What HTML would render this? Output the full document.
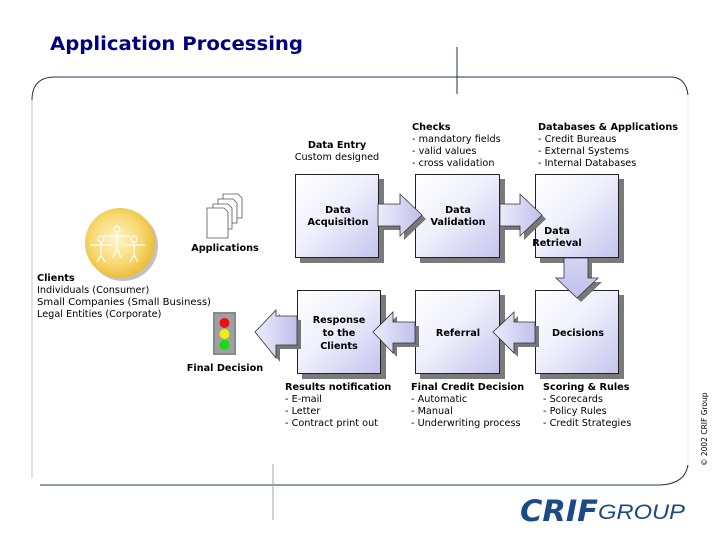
<!DOCTYPE html>
<html><head><meta charset="utf-8"><style>
html,body{margin:0;padding:0;background:#fff;}
svg{display:block;}
text{font-family:"DejaVu Sans","Liberation Sans",sans-serif;font-size:9.7px;fill:#000;}
.b{font-weight:bold;}
</style></head><body>
<svg width="720" height="540" viewBox="0 0 720 540" xmlns="http://www.w3.org/2000/svg">
<defs>
<linearGradient id="g" x1="0" y1="0" x2="1" y2="1">
<stop offset="0" stop-color="#ffffff"/><stop offset="0.45" stop-color="#f0f0fc"/><stop offset="1" stop-color="#c4c4ee"/>
</linearGradient>
<linearGradient id="ga" x1="0" y1="0" x2="1" y2="0">
<stop offset="0" stop-color="#ececfb"/><stop offset="1" stop-color="#c0c0ec"/>
</linearGradient>
<linearGradient id="gd" x1="0" y1="0" x2="0" y2="1">
<stop offset="0" stop-color="#d4d4f4"/><stop offset="1" stop-color="#c0c0ec"/>
</linearGradient>
<radialGradient id="gy" cx="0.45" cy="0.45" r="0.6">
<stop offset="0" stop-color="#fff4cc"/><stop offset="0.6" stop-color="#f8d870"/><stop offset="1" stop-color="#e8b830"/>
</radialGradient>
</defs>

<text x="50" y="50" textLength="253" lengthAdjust="spacingAndGlyphs" style="font-family:'DejaVu Sans',sans-serif;font-size:18.5px;font-weight:bold;fill:#000080">Application Processing</text>

<!-- frame -->
<path d="M32,478 L32,100 Q32,77 55,77 L672,77 Q686,78 688,95" fill="none" stroke="#1e3450" stroke-width="1"/>
<line x1="32" y1="100" x2="32" y2="478" stroke="#b8c8d0" stroke-width="1"/>
<path d="M40,485 L660,485 Q685,484 688,465" fill="none" stroke="#1e3450" stroke-width="1"/>
<line x1="688" y1="95" x2="688" y2="465" stroke="#e4e8ec" stroke-width="1"/>
<line x1="457" y1="47" x2="457" y2="94" stroke="#1e3450" stroke-width="1"/>
<line x1="273" y1="464" x2="273" y2="520" stroke="#9aa8b4" stroke-width="1"/>

<g fill="#7a7a7a">
<rect x="300" y="179" width="84" height="84"/>
<rect x="420" y="179" width="85" height="84"/>
<rect x="540" y="179" width="84" height="84"/>
<rect x="302" y="295" width="84" height="84"/>
<rect x="420" y="295" width="85" height="84"/>
<rect x="540" y="295" width="84" height="84"/>
</g>
<g fill="url(#g)" stroke="#222" stroke-width="1">
<rect x="295.5" y="174.5" width="83" height="83"/>
<rect x="415.5" y="174.5" width="84" height="83"/>
<rect x="535.5" y="174.5" width="83" height="83"/>
<rect x="297.5" y="290.5" width="83" height="83"/>
<rect x="415.5" y="290.5" width="84" height="83"/>
<rect x="535.5" y="290.5" width="83" height="83"/>
</g>

<g>
<polygon points="382,208 404,208 404,198 426,219 404,240 404,230 382,230" fill="#777"/>
<polygon points="378,204 400,204 400,194 422,215 400,236 400,226 378,226" fill="url(#ga)" stroke="#333" stroke-width="0.8"/>
<polygon points="504,208 524,208 524,198 546,219 524,240 524,230 504,230" fill="#777"/>
<polygon points="500,204 520,204 520,194 542,215 520,236 520,226 500,226" fill="url(#ga)" stroke="#333" stroke-width="0.8"/>
<polygon points="568,262 592,262 592,282 602,282 581,302 560,282 568,282" fill="#777"/>
<polygon points="564,258 588,258 588,278 598,278 577,298 556,278 564,278" fill="url(#gd)" stroke="#333" stroke-width="0.8"/>
<polygon points="539,326 518,326 518,316 497,336 518,357 518,347 539,347" fill="#777"/>
<polygon points="535,322 514,322 514,312 493,332 514,353 514,343 535,343" fill="url(#ga)" stroke="#333" stroke-width="0.8"/>
<polygon points="419,326 397,326 397,316 377,336 397,357 397,347 419,347" fill="#777"/>
<polygon points="415,322 393,322 393,312 373,332 393,353 393,343 415,343" fill="url(#ga)" stroke="#333" stroke-width="0.8"/>
<polygon points="301,320 280,320 280,314 259,336 280,362 280,349 301,349" fill="#777"/>
<polygon points="297,316 276,316 276,310 255,332 276,358 276,345 297,345" fill="url(#ga)" stroke="#333" stroke-width="0.8"/>
</g>

<g text-anchor="middle">
<text class="b" x="338" y="213">Data</text><text class="b" x="338" y="225">Acquisition</text>
<text class="b" x="458" y="213">Data</text><text class="b" x="458" y="225">Validation</text>
<text class="b" x="557" y="234">Data</text><text class="b" x="557" y="246">Retrieval</text>
<text class="b" x="339" y="323">Response</text><text class="b" x="339" y="336">to the</text><text class="b" x="339" y="349">Clients</text>
<text class="b" x="458" y="336">Referral</text>
<text class="b" x="578" y="336">Decisions</text>
</g>

<g text-anchor="middle"><text class="b" x="337" y="148">Data Entry</text><text x="337" y="160">Custom designed</text></g>
<text class="b" x="412" y="130">Checks</text>
<text x="412" y="142">- mandatory fields</text>
<text x="412" y="154">- valid values</text>
<text x="412" y="166">- cross validation</text>
<text class="b" x="538" y="130" textLength="140" lengthAdjust="spacingAndGlyphs">Databases &amp; Applications</text>
<text x="538" y="142">- Credit Bureaus</text>
<text x="538" y="154">- External Systems</text>
<text x="538" y="166">- Internal Databases</text>

<text class="b" x="285" y="390">Results notification</text>
<text x="285" y="402">- E-mail</text>
<text x="285" y="414">- Letter</text>
<text x="285" y="426">- Contract print out</text>
<text class="b" x="411" y="390">Final Credit Decision</text>
<text x="411" y="402">- Automatic</text>
<text x="411" y="414">- Manual</text>
<text x="411" y="426">- Underwriting process</text>
<text class="b" x="543" y="390">Scoring &amp; Rules</text>
<text x="543" y="402">- Scorecards</text>
<text x="543" y="414">- Policy Rules</text>
<text x="543" y="426">- Credit Strategies</text>

<circle cx="123" cy="246" r="35" fill="#999" opacity="0.6"/>
<circle cx="120" cy="243" r="35" fill="url(#gy)"/>
<g stroke="#fff" stroke-width="1.2" fill="none">
<circle cx="117" cy="229" r="3"/><path d="M104,236 L130,236 M117,232 L117,248 M113,258 L117,248 L121,258"/>
<circle cx="101" cy="239" r="3"/><path d="M90,245 L112,245 M101,242 L101,255 M97,262 L101,255 L105,262"/>
<circle cx="134" cy="239" r="3"/><path d="M123,245 L145,245 M134,242 L134,255 M130,262 L134,255 L138,262"/>
</g>
<text class="b" x="37" y="281">Clients</text>
<text x="37" y="293">Individuals (Consumer)</text>
<text x="37" y="305" textLength="174" lengthAdjust="spacingAndGlyphs">Small Companies (Small Business)</text>
<text x="37" y="317">Legal Entities (Corporate)</text>

<g fill="#fff" stroke="#555" stroke-width="0.8">
<path d="M223,194 L238,194 L242,198 L242,218 L223,218 Z"/>
<path d="M218,199 L233,199 L237,203 L237,223 L218,223 Z"/>
<path d="M213,204 L228,204 L232,208 L232,229 L213,229 Z"/>
<path d="M207,208 L224,208 L228,212 L228,238 L207,238 Z"/>
</g>
<text class="b" x="225" y="251" text-anchor="middle">Applications</text>

<rect x="213" y="312" width="23" height="43" fill="#8a8a8a"/>
<rect x="215" y="314" width="19" height="39" fill="#a0a0a0"/>
<circle cx="224.5" cy="323" r="5" fill="#ee1111"/>
<circle cx="224.5" cy="334" r="5" fill="#eeee11"/>
<circle cx="224.5" cy="345" r="5" fill="#11dd11"/>
<text class="b" x="225" y="371" text-anchor="middle">Final Decision</text>

<text x="0" y="0" transform="translate(707,466) rotate(-90)" style="font-size:7.5px">© 2002 CRIF Group</text>

<text x="520" y="521" textLength="78" lengthAdjust="spacingAndGlyphs" style="font-family:'DejaVu Sans',sans-serif;font-size:29px;font-weight:bold;font-style:italic;fill:#1c4a86">CRIF</text>
<text x="598" y="519" textLength="87" lengthAdjust="spacingAndGlyphs" style="font-family:'Liberation Sans',sans-serif;font-size:21px;font-style:italic;fill:#1c4a86">GROUP</text>
</svg>
</body></html>
